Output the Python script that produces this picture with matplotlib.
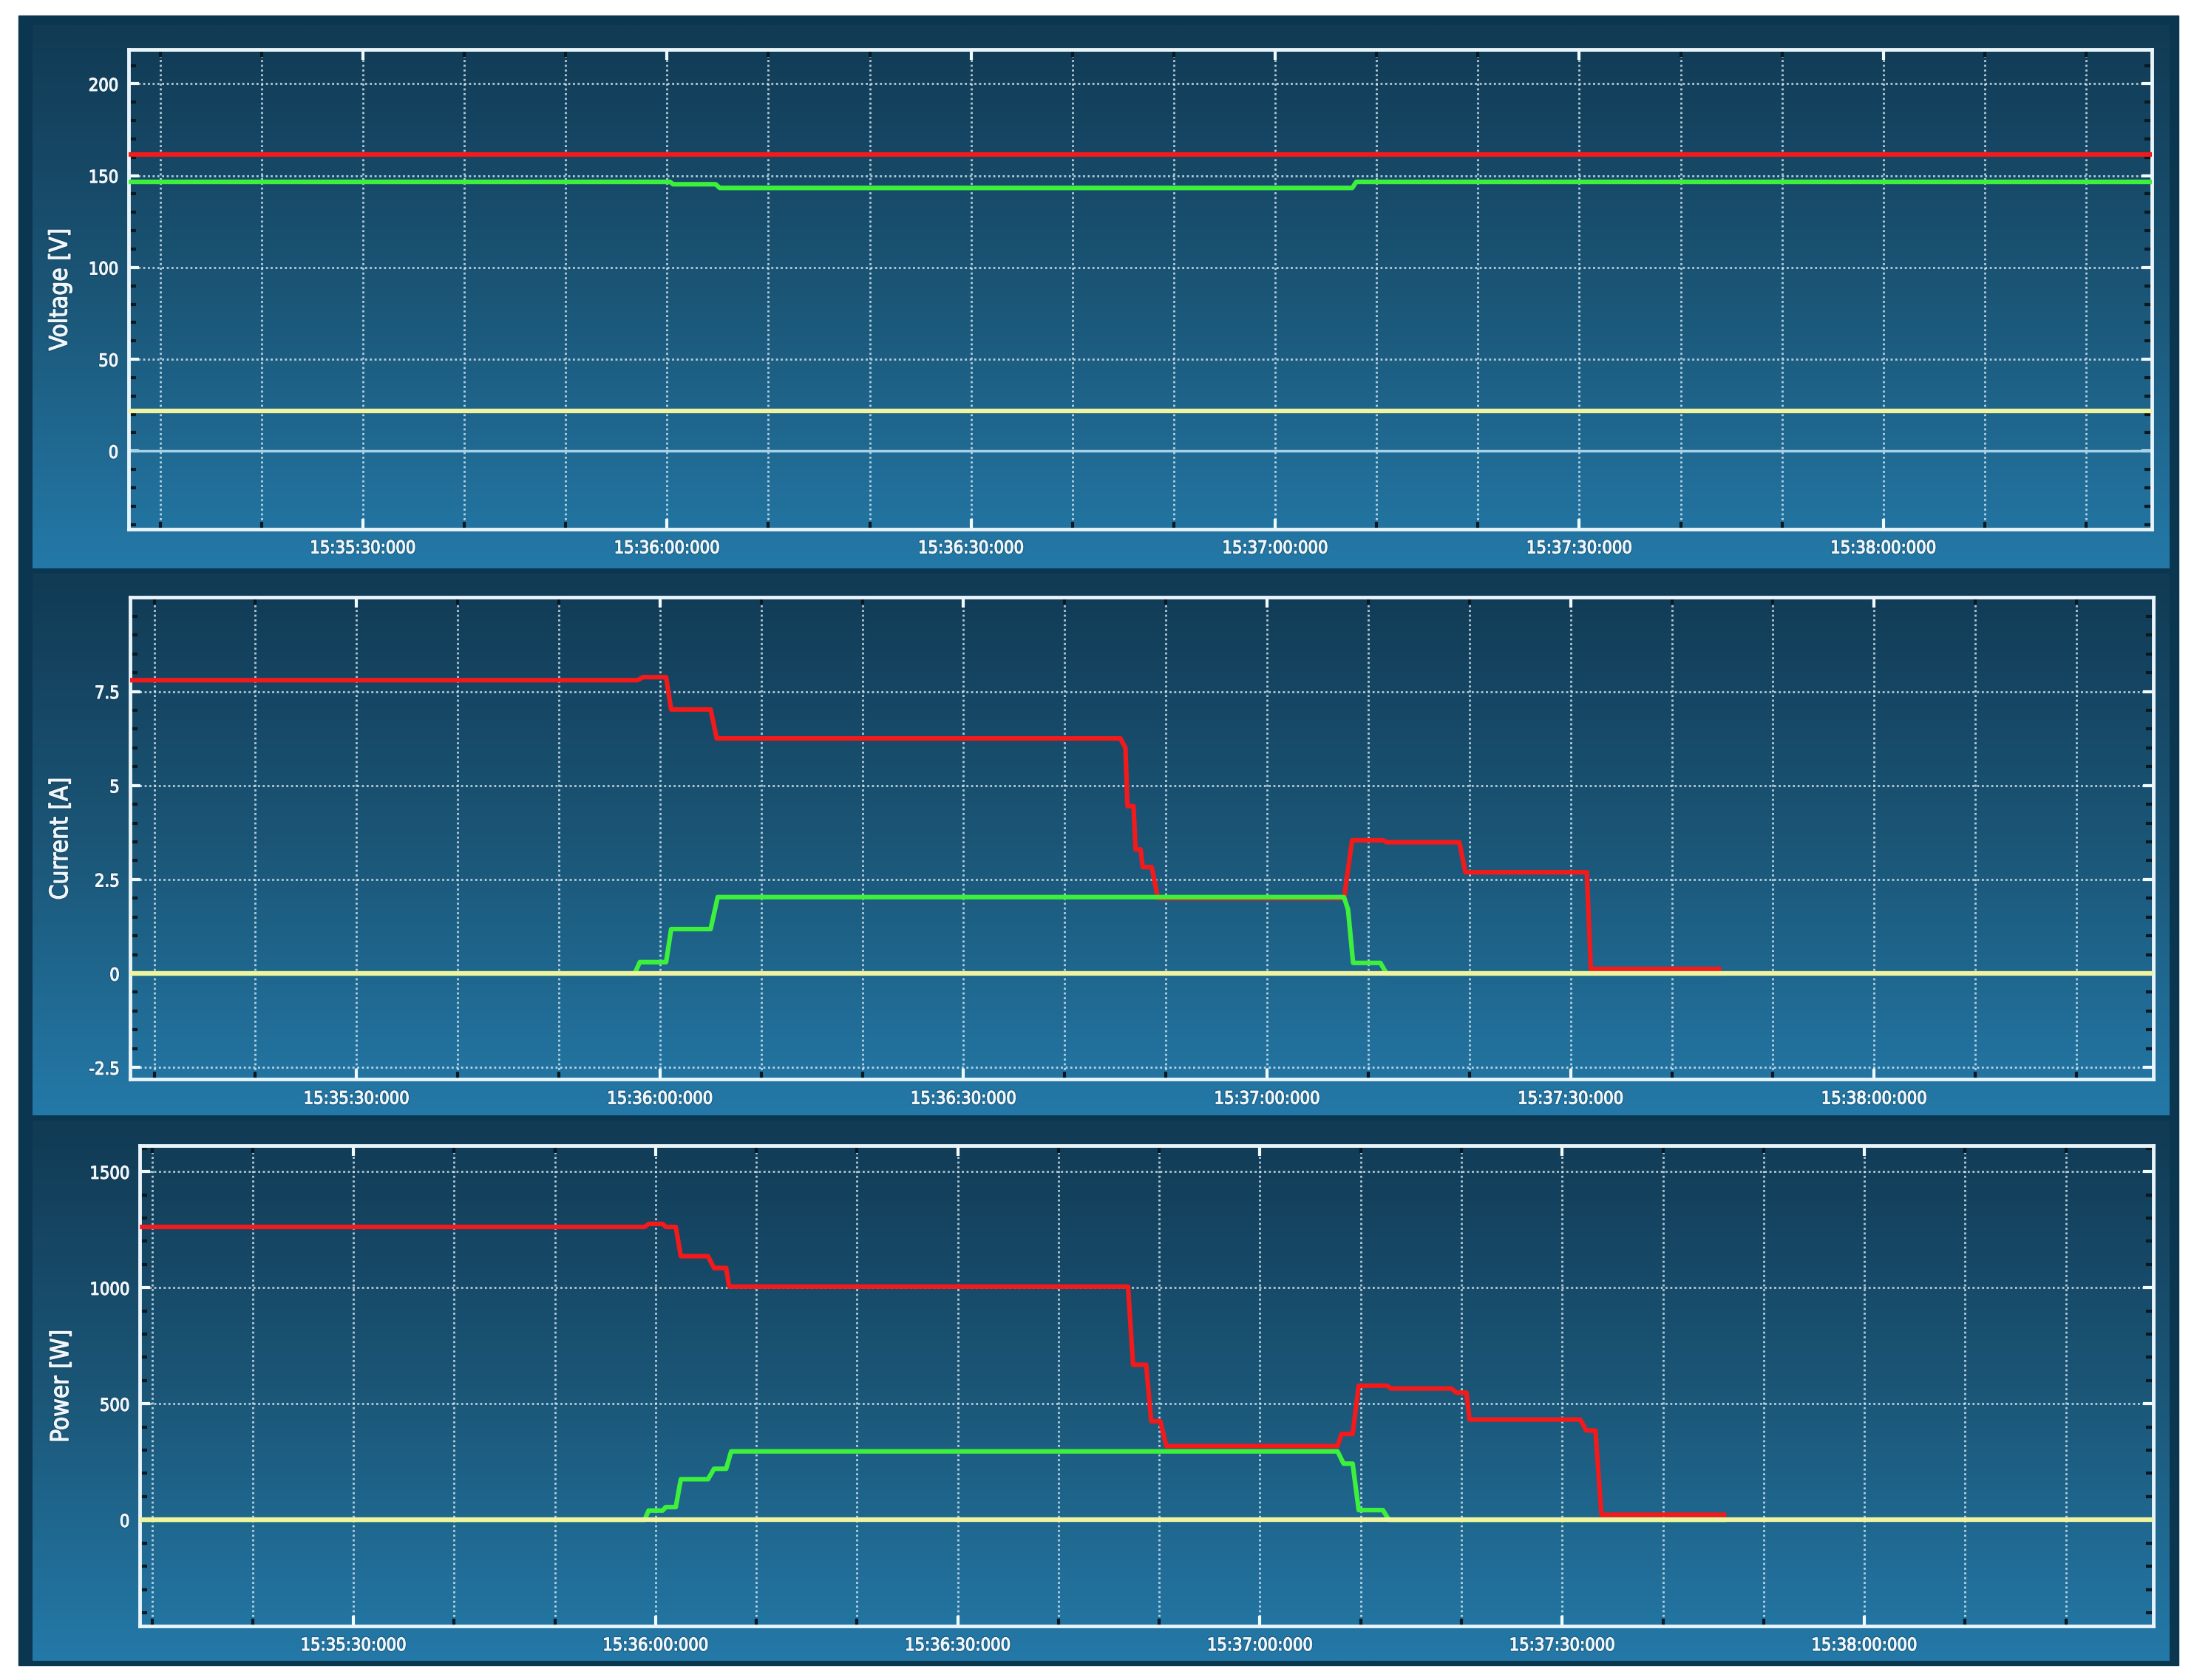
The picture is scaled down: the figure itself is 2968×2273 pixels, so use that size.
import numpy as np
import matplotlib
matplotlib.use("Agg")
import matplotlib.pyplot as plt
import matplotlib.patheffects as pe
from matplotlib.patches import Rectangle
from matplotlib.colors import LinearSegmentedColormap
from matplotlib.ticker import MultipleLocator, FuncFormatter, FixedLocator

# time is in seconds after 15:35:00
# --- voltage [V]
volt_red_t = [6.9, 206.5]
volt_red_v = [161.7, 161.7]
volt_green_t = [6.9, 60.3, 60.6, 64.8, 65.2, 127.6, 128.0, 206.5]
volt_green_v = [146.6, 146.6, 145.3, 145.3, 143.3, 143.3, 146.6, 146.6]
volt_yellow_t = [6.9, 206.5]
volt_yellow_v = [21.7, 21.7]

# --- current [A]
cur_red_t = [7.6, 57.8, 58.3, 60.6, 61.1, 65.0, 65.6, 105.5, 106.0, 106.2, 106.8, 107.0,
             107.5, 107.7, 108.6, 109.2, 127.6, 128.4, 131.5, 131.8, 139.0, 139.6, 151.6,
             152.0, 164.9]
cur_red_v = [7.80, 7.80, 7.88, 7.88, 7.02, 7.02, 6.25, 6.25, 6.0, 4.45, 4.45, 3.3,
             3.3, 2.83, 2.83, 2.0, 2.0, 3.54, 3.54, 3.49, 3.49, 2.69, 2.69,
             0.12, 0.12]
cur_green_t = [7.6, 57.5, 58.0, 60.6, 61.1, 65.0, 65.7, 127.6, 128.0, 128.5, 131.2, 131.8, 164.9]
cur_green_v = [0.0, 0.0, 0.3, 0.3, 1.18, 1.18, 2.03, 2.03, 1.7, 0.28, 0.28, 0.0, 0.0]
cur_yellow_t = [7.6, 207.6]
cur_yellow_v = [0.0, 0.0]

# --- power [W]
pow_red_t = [8.8, 58.9, 59.3, 60.7, 61.0, 62.0, 62.5, 65.2, 65.8, 67.0, 67.3, 106.9, 107.4,
             108.7, 109.2, 110.1, 110.7, 127.7, 128.1, 129.2, 129.8, 132.6, 133.0, 139.0,
             139.5, 140.5, 140.8, 151.8, 152.4, 153.3, 153.9, 166.3]
pow_red_v = [1262, 1262, 1275, 1275, 1262, 1262, 1136, 1136, 1085, 1085, 1005, 1005, 668,
             668, 425, 425, 318, 318, 370, 370, 578, 578, 566, 566,
             548, 548, 432, 432, 385, 385, 22, 22]
pow_green_t = [8.8, 58.9, 59.3, 60.7, 61.0, 62.0, 62.5, 65.2, 65.8, 67.0, 67.5, 127.7, 128.3,
               129.2, 129.8, 132.2, 132.8, 166.3]
pow_green_v = [0, 0, 40, 40, 55, 55, 175, 175, 220, 220, 295, 295, 242,
               242, 42, 42, 0, 0]
pow_yellow_t = [8.8, 208.7]
pow_yellow_v = [0, 0]

labels = ["Voltage [V]", "Current [A]", "Power [W]"]
yticks = [[0, 50, 100, 150, 200], [-2.5, 0, 2.5, 5, 7.5], [0, 500, 1000, 1500]]
ytick_labels = [["0", "50", "100", "150", "200"], ["-2.5", "0", "2.5", "5", "7.5"],
                ["0", "500", "1000", "1500"]]

RED = "#f21a1a"
GREEN = "#3cf03c"
YELLOW = "#f0f4a0"
TXT = "#eef6fb"

W, H = 1568.0, 1200.7


def frac(x0, y0, x1, y1):
    return [x0 / W, 1 - y1 / H, (x1 - x0) / W, (y1 - y0) / H]


def tlabel(t, pos):
    t = int(round(t))
    return "15:%02d:%02d:000" % (35 + t // 60, t % 60)


# thicker, slightly glowing text like the original
text_fx = [pe.withStroke(linewidth=2.5, foreground="#0a2c40", alpha=0.35),
           pe.withStroke(linewidth=0.9, foreground=TXT)]

fig = plt.figure(figsize=(29.68, 22.73), dpi=100, facecolor="white")
fig.patches.append(Rectangle((13 / W, 1 - 1190 / H), (1557 - 13) / W, (1190 - 11) / H,
                             transform=fig.transFigure, color="#0b3650", zorder=-5))

grad_cmap = LinearSegmentedColormap.from_list("bg", ["#113a54", "#1b5677", "#2479a8"])
grad = np.linspace(0, 1, 256).reshape(-1, 1)

panels = [(18, 406), (410, 797), (801, 1187)]
axes_px = [(92, 35.5, 1538, 378), (92.8, 427, 1539, 771.5), (100, 819, 1539, 1162.2)]
xlims = [(6.9, 206.5), (7.6, 207.6), (8.8, 208.7)]
ylims = [(-42.4, 218.6), (-2.82, 10.0), (-458, 1611)]
minors = [10, 0.5, 100]

series = [
    (volt_red_t, volt_red_v, volt_green_t, volt_green_v, volt_yellow_t, volt_yellow_v),
    (cur_red_t, cur_red_v, cur_green_t, cur_green_v, cur_yellow_t, cur_yellow_v),
    (pow_red_t, pow_red_v, pow_green_t, pow_green_v, pow_yellow_t, pow_yellow_v),
]

for i in range(3):
    top, bot = panels[i]
    bg = fig.add_axes(frac(23, top, 1550, bot), zorder=-2)
    bg.imshow(grad, aspect="auto", cmap=grad_cmap, extent=(0, 1, 0, 1))
    bg.axis("off")

    ax = fig.add_axes(frac(*axes_px[i]), zorder=1)
    ax.patch.set_alpha(0)
    rt, rv, gt, gv, yt, yv = series[i]

    ax.axhline(0, color="#a6d2e6", lw=2.5, zorder=2)
    ax.plot(rt, rv, color=RED, lw=4.5, zorder=3, solid_capstyle="butt")
    ax.plot(gt, gv, color=GREEN, lw=4.5, zorder=4, solid_capstyle="butt")
    ax.plot(yt, yv, color=YELLOW, lw=4.5, zorder=5, solid_capstyle="butt")

    ax.set_xlim(*xlims[i])
    ax.set_ylim(*ylims[i])
    ax.xaxis.set_major_locator(MultipleLocator(30))
    ax.xaxis.set_minor_locator(MultipleLocator(10))
    ax.xaxis.set_major_formatter(FuncFormatter(tlabel))
    ax.yaxis.set_major_locator(FixedLocator(yticks[i]))
    ax.set_yticklabels(ytick_labels[i])
    ax.yaxis.set_minor_locator(MultipleLocator(minors[i]))

    ax.grid(True, which="both", axis="x", color="#dcecf4", lw=2, ls=(0, (1, 1.3)), alpha=0.8)
    ax.grid(True, which="major", axis="y", color="#dcecf4", lw=2, ls=(0, (1, 1.3)), alpha=0.8)

    for s in ax.spines.values():
        s.set_color("#e8f4fa")
        s.set_linewidth(3.5)
    ax.tick_params(which="major", direction="in", length=10, width=3, color="#f4fbff",
                   top=True, right=True, labelsize=17, labelcolor=TXT, pad=10)
    ax.tick_params(which="minor", direction="in", length=7, width=3, color="#061820",
                   top=True, right=True)
    for lab in ax.get_xticklabels() + ax.get_yticklabels():
        lab.set_fontfamily("DejaVu Sans")
        lab.set_fontstretch("condensed")
        lab.set_path_effects(text_fx)
    yl = ax.set_ylabel(labels[i], fontsize=24, color=TXT, labelpad=16,
                       fontfamily="DejaVu Sans", fontstretch="condensed")
    yl.set_path_effects(text_fx)

fig.savefig("out.png", dpi=100, facecolor="white")
